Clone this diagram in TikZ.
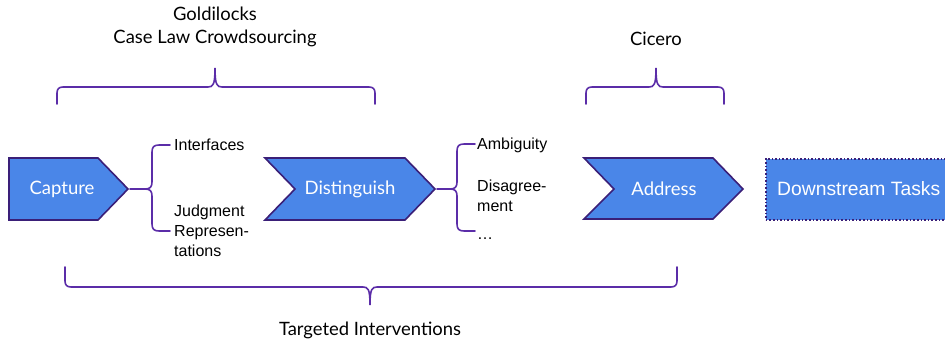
\documentclass[tikz,border=0pt]{standalone}
\usepackage{fontspec}
\setmainfont{Lato}
\newfontfamily\arialf{Liberation Sans}
\definecolor{chevfill}{HTML}{4A86E8}
\definecolor{chevline}{HTML}{3A1F78}
\definecolor{bracecol}{HTML}{5B2DA8}
\tikzset{
  chev/.style={fill=chevfill, draw=chevline, line width=1.6pt, line join=miter},
  brace/.style={draw=bracecol, line width=1.6pt, line cap=round},
  chevtext/.style={text=white, font=\fontsize{18.5}{20}\selectfont, inner sep=0pt},
  listtext/.style={font=\arialf\fontsize{16}{20}\selectfont, align=left, inner sep=0pt, anchor=west},
  toptext/.style={font=\fontsize{18.4}{23}\selectfont, align=center, inner sep=0pt}
}
\begin{document}
\begin{tikzpicture}[x=1pt,y=-1pt]
\useasboundingbox (0,0) rectangle (945,343);
% chevrons
\draw[chev] (9,158) -- (98,158) -- (128,189) -- (98,220) -- (9,220) -- cycle;
\draw[chev] (265,158) -- (405,158) -- (435,189) -- (405,220) -- (265,220) -- (295,189) -- cycle;
\draw[chev] (584,158) -- (713,158) -- (743,189) -- (713,219) -- (584,219) -- (614,189) -- cycle;
\node[chevtext] (capture) at (62,189) {Capture};
\node[chevtext] (distinguish) at (350,189) {Distinguish};
\node[chevtext] (address) at (664,189) {Address};
\coordinate (captip) at (130,189);
\coordinate (distip) at (437,189);
% downstream
\node[draw=chevline, fill=chevfill, dotted, line width=1.6pt, minimum width=182pt, minimum height=61pt, anchor=north west, inner sep=0pt] (downbox) at (765,158) {};
\node[text=white, font=\arialf\fontsize{19.3}{20}\selectfont, anchor=west, inner sep=0pt] (downstream) at (777,189) {Downstream Tasks};
% capture brace
\node[listtext] (interfaces) at (174,145) {Interfaces};
\node[listtext] (judgment) at (174,231) {Judgment\\Represen-\\tations};
\draw[brace] (captip) -- (145,189) .. controls (150,189) and (152,187) .. (152,182) -- (152,152) .. controls (152,147) and (154,145) .. (159,145) -- (170,145);
\draw[brace] (145,189) .. controls (150,189) and (152,191) .. (152,196) -- (152,224) .. controls (152,229) and (154,231) .. (159,231) -- (170,231);
% distinguish brace
\node[listtext] (ambiguity) at (477,145) {Ambiguity};
\node[listtext] (disagree) at (477,196) {Disagree-\\ment};
\node[listtext] (dots) at (477,239) {\dots};
\draw[brace] (distip) -- (450,189) .. controls (455,189) and (457,187) .. (457,182) -- (457,151) .. controls (457,146) and (459,144) .. (464,144) -- (475,144);
\draw[brace] (450,189) .. controls (455,189) and (457,191) .. (457,196) -- (457,224) .. controls (457,229) and (459,231) .. (464,231) -- (475,231);
% top brace goldilocks
\node[toptext] (gold) at (215,27) {Goldilocks\\Case Law Crowdsourcing};
\coordinate (gtip) at (215,68);
\draw[brace] (57,104) -- (57,93) .. controls (57,89) and (59,87) .. (63,87) -- (208,87) .. controls (213,87) and (215,85) .. (gtip) .. controls (215,85) and (217,87) .. (222,87) -- (369,87) .. controls (373,87) and (375,89) .. (375,93) -- (375,104);
% cicero brace
\node[toptext] (cicero) at (656,39) {Cicero};
\coordinate (ctip) at (656,68);
\draw[brace] (586,104) -- (586,93) .. controls (586,89) and (588,87) .. (592,87) -- (649,87) .. controls (654,87) and (656,85) .. (ctip) .. controls (656,85) and (658,87) .. (663,87) -- (718,87) .. controls (722,87) and (724,89) .. (724,93) -- (724,104);
% bottom brace
\node[toptext] (targeted) at (370,330) {Targeted Interventions};
\coordinate (btip) at (370,305);
\draw[brace] (65,267) -- (65,281) .. controls (65,285) and (67,287) .. (71,287) -- (363,287) .. controls (368,287) and (370,289) .. (btip) .. controls (370,289) and (372,287) .. (377,287) -- (671,287) .. controls (675,287) and (677,285) .. (677,281) -- (677,267);
\end{tikzpicture}
\end{document}
